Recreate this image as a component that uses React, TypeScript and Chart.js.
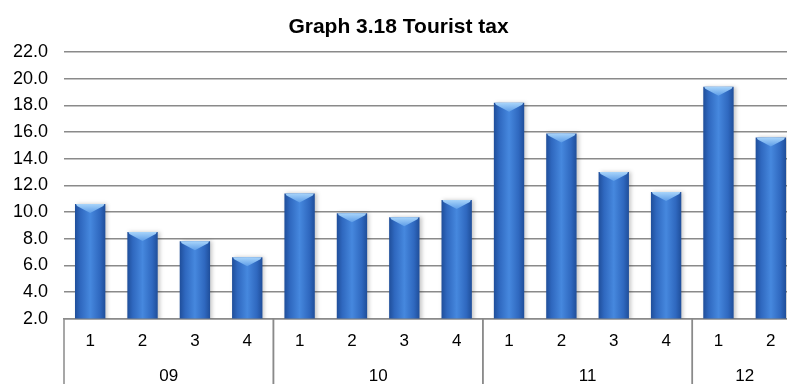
import React, { useEffect, useRef } from 'react';
import { Chart, registerables } from 'chart.js';

Chart.register(...registerables);

const TITLE = 'Graph 3.18 Tourist tax';
const years = ['09', '10', '11', '12'];
const quarters = ['1', '2', '3', '4', '1', '2', '3', '4', '1', '2', '3', '4', '1', '2'];
const yearOfBar = [0, 0, 0, 0, 1, 1, 1, 1, 2, 2, 2, 2, 3, 3];
const values = [10.6, 8.5, 7.8, 6.6, 11.4, 9.9, 9.6, 10.9, 18.2, 15.9, 13.0, 11.5, 19.4, 15.6];
const yTicks = { min: 2, max: 22, step: 2 };

const BAR_PCT = 0.58;
const FONT = "'Liberation Sans', Arial, Helvetica, sans-serif";
const GRID = '#8a8a8a';

const barLook = {
  id: 'barLook',
  beforeDatasetsDraw(chart: any) {
    const ctx = chart.ctx;
    ctx.save();
    ctx.shadowColor = 'rgba(0,0,0,0.22)';
    ctx.shadowBlur = 4;
    ctx.shadowOffsetX = 2;
    ctx.shadowOffsetY = 0;
  },
  afterDatasetsDraw(chart: any) {
    const ctx = chart.ctx;
    ctx.restore();
    const meta = chart.getDatasetMeta(0);
    meta.data.forEach((bar: any) => {
      const { x, y, width } = bar.getProps(['x', 'y', 'width'], true);
      const l = x - width / 2;
      const r = x + width / 2;
      const depth = Math.min(9, width * 0.3);
      ctx.save();
      const g = ctx.createLinearGradient(0, y, 0, y + depth);
      g.addColorStop(0, '#a8d4fa');
      g.addColorStop(1, '#5d9de8');
      ctx.fillStyle = g;
      ctx.beginPath();
      ctx.moveTo(l + 1, y);
      ctx.lineTo(r - 1, y);
      ctx.lineTo(r - 2, y + 2);
      ctx.lineTo(x, y + depth);
      ctx.lineTo(l + 2, y + 2);
      ctx.closePath();
      ctx.fill();
      ctx.restore();
    });
  },
};

const groupAxis = {
  id: 'groupAxis',
  afterDraw(chart: any) {
    const ctx = chart.ctx;
    const xs = chart.scales.x;
    const area = chart.chartArea;
    const n = quarters.length;
    const edge = (i: number) => {
      if (i <= 0) return xs.left;
      if (i >= n) return xs.right;
      return (xs.getPixelForValue(i - 1) + xs.getPixelForValue(i)) / 2;
    };
    ctx.save();
    ctx.strokeStyle = GRID;
    ctx.lineWidth = 1.5;
    ctx.fillStyle = '#000';
    ctx.font = `17px ${FONT}`;
    ctx.textAlign = 'center';
    ctx.textBaseline = 'middle';
    years.forEach((yr, gi) => {
      const idx = yearOfBar.map((v, i) => (v === gi ? i : -1)).filter((i) => i >= 0);
      const first = idx[0];
      const last = idx[idx.length - 1];
      const x0 = edge(first);
      const x1 = edge(last + 1);
      [x0, x1].forEach((xx) => {
        ctx.beginPath();
        ctx.moveTo(xx, area.bottom);
        ctx.lineTo(xx, chart.height);
        ctx.stroke();
      });
      ctx.fillText(yr, (x0 + x1) / 2, area.bottom + 58);
    });
    ctx.restore();
  },
};

export default function App() {
  const ref = useRef<HTMLCanvasElement | null>(null);

  useEffect(() => {
    document.body.style.margin = '0';
    if (!ref.current) return;
    const chart = new Chart(ref.current, {
      type: 'bar',
      data: {
        labels: quarters,
        datasets: [
          {
            data: values,
            backgroundColor: (c: any) => {
              const ch = c.chart;
              const xs = ch.scales && ch.scales.x;
              if (!ch.chartArea || !xs || c.dataIndex === undefined) return '#3a75cc';
              const x = xs.getPixelForValue(c.dataIndex);
              const w = (xs.width / quarters.length) * BAR_PCT;
              const g = ch.ctx.createLinearGradient(x - w / 2, 0, x + w / 2, 0);
              g.addColorStop(0, '#1f4e9a');
              g.addColorStop(0.18, '#2f68bf');
              g.addColorStop(0.5, '#4688de');
              g.addColorStop(0.82, '#2f68bf');
              g.addColorStop(1, '#1f4e9a');
              return g;
            },
            borderWidth: 0,
            barPercentage: BAR_PCT,
            categoryPercentage: 1,
          },
        ],
      },
      options: {
        responsive: false,
        animation: false,
        devicePixelRatio: 1,
        layout: { padding: { left: 0, right: 3, top: 0, bottom: 19 } },
        plugins: {
          legend: { display: false },
          tooltip: { enabled: false },
          title: {
            display: true,
            text: TITLE,
            color: '#000',
            font: { family: FONT, size: 21, weight: 'bold' },
            padding: { top: 15, bottom: 12 },
          },
        },
        scales: {
          x: {
            grid: { display: false, drawTicks: false },
            border: { display: true, color: GRID, width: 1.5 },
            ticks: {
              color: '#000',
              font: { family: FONT, size: 17 },
              padding: 13,
              maxRotation: 0,
              autoSkip: false,
            },
          },
          y: {
            min: yTicks.min,
            max: yTicks.max,
            afterFit: (s: any) => {
              s.width = 64;
            },
            grid: { color: GRID, lineWidth: 1.5, drawTicks: false },
            border: { display: false },
            ticks: {
              stepSize: yTicks.step,
              color: '#000',
              font: { family: FONT, size: 18 },
              padding: 16,
              callback: (v: any) => Number(v).toFixed(1),
            },
          },
        },
      },
      plugins: [barLook, groupAxis],
    });
    return () => chart.destroy();
  }, []);

  return (
    <div style={{ width: 787, height: 384, overflow: 'hidden', background: '#fff' }}>
      <canvas ref={ref} width={800} height={384} style={{ display: 'block' }} />
    </div>
  );
}
